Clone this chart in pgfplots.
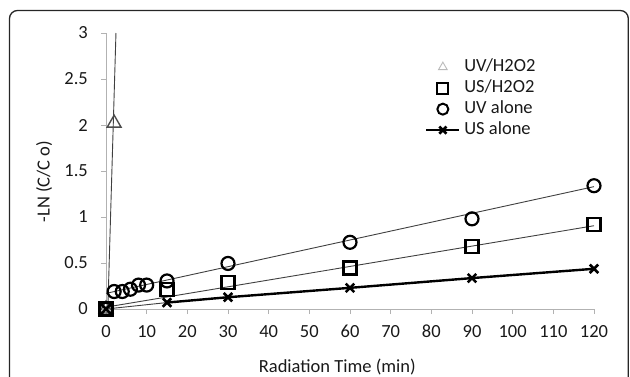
\documentclass[border=0pt]{standalone}
\usepackage{fontspec}
\setmainfont{Carlito}
\usepackage{pgfplots}
\pgfplotsset{compat=1.18}
\begin{document}
\begin{tikzpicture}[x=1pt,y=1pt]
\useasboundingbox (0,0) rectangle (630,376);
\draw[line width=1.3pt, color=black!85, rounded corners=8pt] (9.5,-30) -- (9.5,365.5) -- (628.3,365.5) -- (628.3,-30);
\begin{axis}[
  at={(106pt,67pt)}, anchor=south west,
  scale only axis, width=488pt, height=276pt,
  xmin=0, xmax=120, ymin=0, ymax=3,
  clip=false,
  axis x line*=bottom, axis y line*=left,
  axis line style={gray!60, line width=0.9pt},
  tick style={gray!60, line width=0.9pt},
  tick align=outside, major tick length=5pt,
  xtick={0,10,...,120},
  ytick={0,0.5,1,1.5,2,2.5,3},
  yticklabels={0,0.5,1,1.5,2,2.5,3},
  font=\fontsize{18.5}{21}\selectfont,
  /pgf/number format/assume math mode=true,
  ticklabel style={font=\fontsize{18.5}{21}\selectfont, text=black!90},
  yticklabel style={inner sep=0pt, anchor=east, xshift=-13pt},
  xticklabel style={inner sep=0pt, anchor=north, yshift=-11pt},
  xlabel={Radiation Time (min)},
  ylabel={-LN (C/C o)},
  xlabel style={at={(axis description cs:0.474,-0.210)}, anchor=center, font=\fontsize{18.5}{21}\selectfont, text=black!90},
  ylabel style={at={(axis description cs:-0.127,0.462)}, anchor=center, font=\fontsize{18.5}{21}\selectfont, text=black!90},
  legend cell align=left,
  legend style={draw=none, fill=none, inner sep=0pt, at={(axis description cs:0.654,0.906)}, anchor=north west,
    row sep=5pt, column sep=4pt, font=\fontsize{18.5}{21}\selectfont, text=black!90,
    nodes={inner sep=0pt, text height=12pt, text depth=4pt}},
]
% UV/H2O2
\addplot[only marks, mark=triangle, mark size=8pt, draw=black!70, line width=1.4pt,
  legend image code/.code={\draw[draw=gray!55, line width=0.9pt] plot[mark=triangle, mark size=5pt] coordinates {(16.5pt,0pt)};}]
  coordinates {(0,0) (2,2.02)};
\addlegendentry{UV/H2O2}
% US/H2O2
\addplot[only marks, mark=square, mark size=6.5pt, draw=black, line width=2.2pt,
  legend image code/.code={\draw[draw=black, line width=2pt] plot[mark=square, mark size=5.5pt] coordinates {(16.5pt,0pt)};}]
  coordinates {(0,0) (15,0.215) (30,0.29) (60,0.445) (90,0.68) (120,0.915)};
\addlegendentry{US/H2O2}
% UV alone
\addplot[only marks, mark=o, mark size=6.5pt, draw=black, line width=2.2pt,
  legend image code/.code={\draw[draw=black, line width=2pt] plot[mark=o, mark size=5.5pt] coordinates {(16.5pt,0pt)};}]
  coordinates {(0,0) (2,0.19) (4,0.19) (6,0.215) (8,0.26) (10,0.26) (15,0.305) (30,0.495) (60,0.725) (90,0.98) (120,1.34)};
\addlegendentry{UV alone}
% US alone
\addplot[black, line width=2.4pt, mark=x, mark size=6pt, mark options={line width=2.6pt},
  legend image code/.code={\draw[black, line width=2pt] (0pt,0pt) -- (33pt,0pt); \draw[black, line width=2.2pt] plot[mark=x, mark size=5pt] coordinates {(16.5pt,0pt)};}]
  coordinates {(15,0.07) (30,0.128) (60,0.23) (90,0.336) (120,0.437)};
\addlegendentry{US alone}
% markers at origin
\addplot[only marks, mark=x, mark size=6pt, black, line width=2.6pt, forget plot] coordinates {(0,0)};
% trend lines
\addplot[black!75, line width=0.9pt, forget plot] coordinates {(0.45,0) (2.45,3)};
\addplot[black!75, line width=0.9pt, forget plot] coordinates {(0,0.17) (120,1.33)};
\addplot[black!75, line width=0.9pt, forget plot] coordinates {(0,0.02) (120,0.905)};
\addplot[black!75, line width=0.9pt, forget plot] coordinates {(0,0) (15,0.07)};
\end{axis}
\end{tikzpicture}
\end{document}
